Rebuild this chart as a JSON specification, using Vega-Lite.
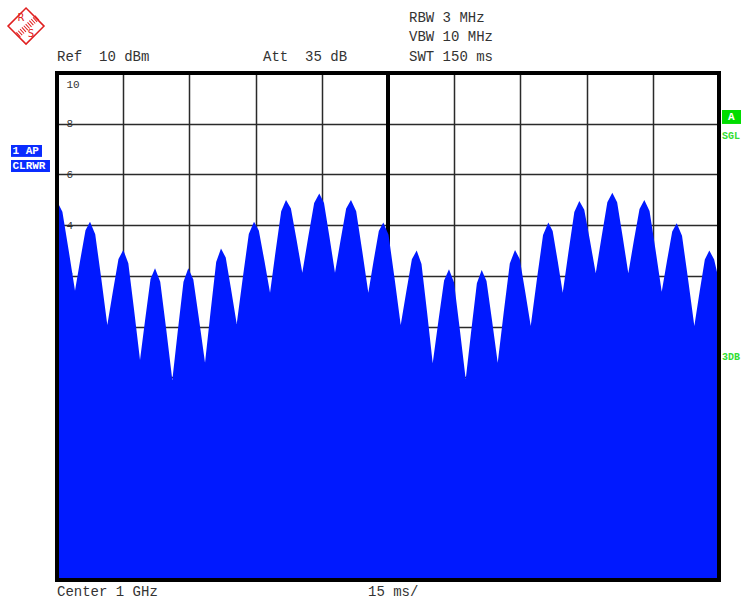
{
  "$schema": "https://vega.github.io/schema/vega-lite/v6.json",
  "autosize": "none",
  "width": 662,
  "height": 507,
  "padding": {"left": 57, "top": 73, "right": 22, "bottom": 19},
  "background": "white",
  "config": {"view": {"stroke": null}},
  "datasets": {
    "trace": [
      {"t":0,"dbm":4.95},{"t":1.22,"dbm":4.53},{"t":2.65,"dbm":3.00},{"t":4.08,"dbm":1.41},{"t":5.27,"dbm":2.63},{"t":6.46,"dbm":3.80},
      {"t":7.48,"dbm":4.13},{"t":8.66,"dbm":3.64},{"t":10.03,"dbm":1.89},{"t":11.40,"dbm":0.06},{"t":12.67,"dbm":1.39},{"t":13.93,"dbm":2.66},
      {"t":15.02,"dbm":3.02},{"t":16.16,"dbm":2.50},{"t":17.48,"dbm":0.63},{"t":18.81,"dbm":-1.32},{"t":20.00,"dbm":0.31},{"t":21.19,"dbm":1.87},
      {"t":22.21,"dbm":2.30},{"t":23.39,"dbm":1.77},{"t":24.76,"dbm":-0.13},{"t":26.13,"dbm":-2.11},{"t":27.40,"dbm":-0.13},{"t":28.66,"dbm":1.77},
      {"t":29.75,"dbm":2.30},{"t":30.89,"dbm":1.85},{"t":32.21,"dbm":0.25},{"t":33.54,"dbm":-1.43},{"t":34.81,"dbm":0.60},{"t":36.07,"dbm":2.54},
      {"t":37.16,"dbm":3.08},{"t":38.23,"dbm":2.72},{"t":39.47,"dbm":1.44},{"t":40.72,"dbm":0.10},{"t":42.09,"dbm":1.91},{"t":43.46,"dbm":3.65},
      {"t":44.64,"dbm":4.13},{"t":45.73,"dbm":3.79},{"t":47.00,"dbm":2.59},{"t":48.27,"dbm":1.33},{"t":49.54,"dbm":2.98},{"t":50.80,"dbm":4.55},
      {"t":51.89,"dbm":4.99},{"t":53.00,"dbm":4.65},{"t":54.29,"dbm":3.41},{"t":55.58,"dbm":2.12},{"t":56.93,"dbm":3.53},{"t":58.27,"dbm":4.87},
      {"t":59.43,"dbm":5.25},{"t":60.50,"dbm":4.87},{"t":61.74,"dbm":3.53},{"t":62.99,"dbm":2.12},{"t":64.26,"dbm":3.41},{"t":65.52,"dbm":4.65},
      {"t":66.61,"dbm":4.99},{"t":67.79,"dbm":4.55},{"t":69.16,"dbm":2.98},{"t":70.54,"dbm":1.33},{"t":71.73,"dbm":2.58},{"t":72.92,"dbm":3.77},
      {"t":73.94,"dbm":4.10},{"t":75.12,"dbm":3.62},{"t":76.50,"dbm":1.88},{"t":77.88,"dbm":0.06},{"t":79.15,"dbm":1.38},{"t":80.41,"dbm":2.65},
      {"t":81.50,"dbm":3.00},{"t":82.59,"dbm":2.47},{"t":83.86,"dbm":0.55},{"t":85.13,"dbm":-1.45},{"t":86.42,"dbm":0.22},{"t":87.71,"dbm":1.81},
      {"t":88.82,"dbm":2.26},{"t":89.96,"dbm":1.74},{"t":91.28,"dbm":-0.13},{"t":92.61,"dbm":-2.08},{"t":93.88,"dbm":-0.14},{"t":95.14,"dbm":1.71},
      {"t":96.23,"dbm":2.23},{"t":97.32,"dbm":1.79},{"t":98.59,"dbm":0.22},{"t":99.86,"dbm":-1.43},{"t":101.23,"dbm":0.57},{"t":102.60,"dbm":2.49},
      {"t":103.78,"dbm":3.02},{"t":104.85,"dbm":2.66},{"t":106.09,"dbm":1.37},{"t":107.34,"dbm":0.02},{"t":108.74,"dbm":1.86},{"t":110.13,"dbm":3.61},
      {"t":111.33,"dbm":4.10},{"t":112.31,"dbm":3.77},{"t":113.45,"dbm":2.58},{"t":114.59,"dbm":1.33},{"t":115.91,"dbm":2.96},{"t":117.22,"dbm":4.52},
      {"t":118.35,"dbm":4.95},{"t":119.47,"dbm":4.61},{"t":120.77,"dbm":3.38},{"t":122.07,"dbm":2.10},{"t":123.39,"dbm":3.53},{"t":124.70,"dbm":4.90},
      {"t":125.83,"dbm":5.28},{"t":126.92,"dbm":4.90},{"t":128.18,"dbm":3.53},{"t":129.45,"dbm":2.10},{"t":130.72,"dbm":3.40},{"t":131.99,"dbm":4.64},
      {"t":133.08,"dbm":4.99},{"t":134.26,"dbm":4.56},{"t":135.64,"dbm":3.00},{"t":137.02,"dbm":1.37},{"t":138.21,"dbm":2.58},{"t":139.40,"dbm":3.75},
      {"t":140.42,"dbm":4.07},{"t":141.62,"dbm":3.58},{"t":143.01,"dbm":1.84},{"t":144.41,"dbm":0.02},{"t":145.60,"dbm":1.36},{"t":146.79,"dbm":2.64},
      {"t":147.81,"dbm":3.00},{"t":148.90,"dbm":2.64},{"t":150.00,"dbm":1.80}
    ],
    "header": [
      {"t":0,"v":10.63,"label":"Ref\u00a0\u00a010 dBm"},
      {"t":46.68,"v":10.63,"label":"Att\u00a0\u00a035 dB"},
      {"t":79.76,"v":12.17,"label":"RBW 3 MHz"},
      {"t":79.76,"v":11.42,"label":"VBW 10 MHz"},
      {"t":79.76,"v":10.63,"label":"SWT 150 ms"},
      {"t":0,"v":-10.47,"label":"Center 1 GHz"},
      {"t":70.47,"v":-10.47,"label":"15 ms/"}
    ],
    "bluebox": [
      {"t1":-10.42,"t2":-3.40,"v1":7.16,"v2":6.69,"tx":-10.1,"v":6.92,"label":"1 AP"},
      {"t1":-10.42,"t2":-1.59,"v1":6.57,"v2":6.09,"tx":-10.1,"v":6.33,"label":"CLRWR"}
    ],
    "greenbox": [
      {"t1":150.68,"t2":155,"v1":8.54,"v2":7.99,"tx":152.8,"v":8.26,"label":"A"}
    ],
    "greentext": [
      {"t":150.68,"v":7.51,"label":"SGL"},
      {"t":150.68,"v":-1.2,"label":"3DB"}
    ],
    "logo": [
      {"t":-7.02,"v":11.85}
    ],
    "logoband": [
      {"t1":-8.84,"v1":11.50,"t2":-4.31,"v2":12.21}
    ],
    "logoletters": [
      {"t":-8.16,"v":12.17,"label":"R"},
      {"t":-5.89,"v":11.54,"label":"S"}
    ]
  },
  "layer": [
    {
      "data": {"name": "trace"},
      "mark": {"type": "rule", "color": "#000000", "strokeWidth": 3},
      "encoding": {"x": {"datum": 75, "type": "quantitative"}}
    },
    {
      "data": {"name": "trace"},
      "mark": {"type": "area", "color": "#0019ff", "interpolate": "linear", "opacity": 1},
      "encoding": {
        "x": {
          "field": "t", "type": "quantitative",
          "scale": {"domain": [0, 150], "nice": false, "zero": false},
          "axis": {"values": [0,15,30,45,60,75,90,105,120,135,150], "grid": true, "gridColor": "#2a2a2a", "gridWidth": 1.5, "gridOpacity": 1, "labels": false, "ticks": false, "domain": false, "title": null}
        },
        "y": {
          "field": "dbm", "type": "quantitative",
          "scale": {"domain": [-10, 10], "nice": false, "zero": false},
          "axis": {"values": [-10,-8,-6,-4,-2,0,2,4,6,8,10], "grid": true, "gridColor": "#2a2a2a", "gridWidth": 1.5, "gridOpacity": 1, "ticks": false, "tickSize": 0, "domain": false, "title": null, "labelAlign": "left", "labelPadding": -9, "labelFlush": true, "labelFlushOffset": -5, "labelFont": "Liberation Mono", "labelFontSize": 11, "labelColor": "#333333"}
        },
        "y2": {"datum": -10}
      }
    },
    {
      "data": {"name": "trace"},
      "mark": {"type": "rect", "filled": false, "stroke": "#000000", "strokeWidth": 3},
      "encoding": {
        "x": {"datum": 0, "type": "quantitative"},
        "x2": {"datum": 150},
        "y": {"datum": -10, "type": "quantitative"},
        "y2": {"datum": 10}
      }
    },
    {
      "data": {"name": "header"},
      "mark": {"type": "text", "align": "left", "baseline": "middle", "font": "Liberation Mono", "fontSize": 14, "color": "#333333"},
      "encoding": {
        "x": {"field": "t", "type": "quantitative"},
        "y": {"field": "v", "type": "quantitative"},
        "text": {"field": "label"}
      }
    },
    {
      "data": {"name": "bluebox"},
      "mark": {"type": "rect", "color": "#0a2cff"},
      "encoding": {
        "x": {"field": "t1", "type": "quantitative"},
        "x2": {"field": "t2"},
        "y": {"field": "v1", "type": "quantitative"},
        "y2": {"field": "v2"}
      }
    },
    {
      "data": {"name": "bluebox"},
      "mark": {"type": "text", "align": "left", "baseline": "middle", "font": "Liberation Mono", "fontSize": 11, "fontWeight": "bold", "color": "#ffffff"},
      "encoding": {
        "x": {"field": "tx", "type": "quantitative"},
        "y": {"field": "v", "type": "quantitative"},
        "text": {"field": "label"}
      }
    },
    {
      "data": {"name": "greenbox"},
      "mark": {"type": "rect", "color": "#00dd00"},
      "encoding": {
        "x": {"field": "t1", "type": "quantitative"},
        "x2": {"field": "t2"},
        "y": {"field": "v1", "type": "quantitative"},
        "y2": {"field": "v2"}
      }
    },
    {
      "data": {"name": "greenbox"},
      "mark": {"type": "text", "align": "center", "baseline": "middle", "font": "Liberation Mono", "fontSize": 11, "fontWeight": "bold", "color": "#ffffff"},
      "encoding": {
        "x": {"field": "tx", "type": "quantitative"},
        "y": {"field": "v", "type": "quantitative"},
        "text": {"field": "label"}
      }
    },
    {
      "data": {"name": "greentext"},
      "mark": {"type": "text", "align": "left", "baseline": "middle", "font": "Liberation Mono", "fontSize": 10, "fontWeight": "bold", "color": "#33dd33"},
      "encoding": {
        "x": {"field": "t", "type": "quantitative"},
        "y": {"field": "v", "type": "quantitative"},
        "text": {"field": "label"}
      }
    },
    {
      "data": {"name": "logo"},
      "mark": {"type": "point", "shape": "diamond", "size": 1300, "filled": false, "stroke": "#e02020", "strokeWidth": 1.5, "opacity": 1},
      "encoding": {
        "x": {"field": "t", "type": "quantitative"},
        "y": {"field": "v", "type": "quantitative"}
      }
    },
    {
      "data": {"name": "logoband"},
      "mark": {"type": "rule", "color": "#e02020", "strokeWidth": 6, "strokeDash": [1, 1.5]},
      "encoding": {
        "x": {"field": "t1", "type": "quantitative"},
        "x2": {"field": "t2"},
        "y": {"field": "v1", "type": "quantitative"},
        "y2": {"field": "v2"}
      }
    },
    {
      "data": {"name": "logoletters"},
      "mark": {"type": "text", "align": "center", "baseline": "middle", "font": "DejaVu Sans", "fontSize": 10, "color": "#e02020"},
      "encoding": {
        "x": {"field": "t", "type": "quantitative"},
        "y": {"field": "v", "type": "quantitative"},
        "text": {"field": "label"}
      }
    }
  ]
}
